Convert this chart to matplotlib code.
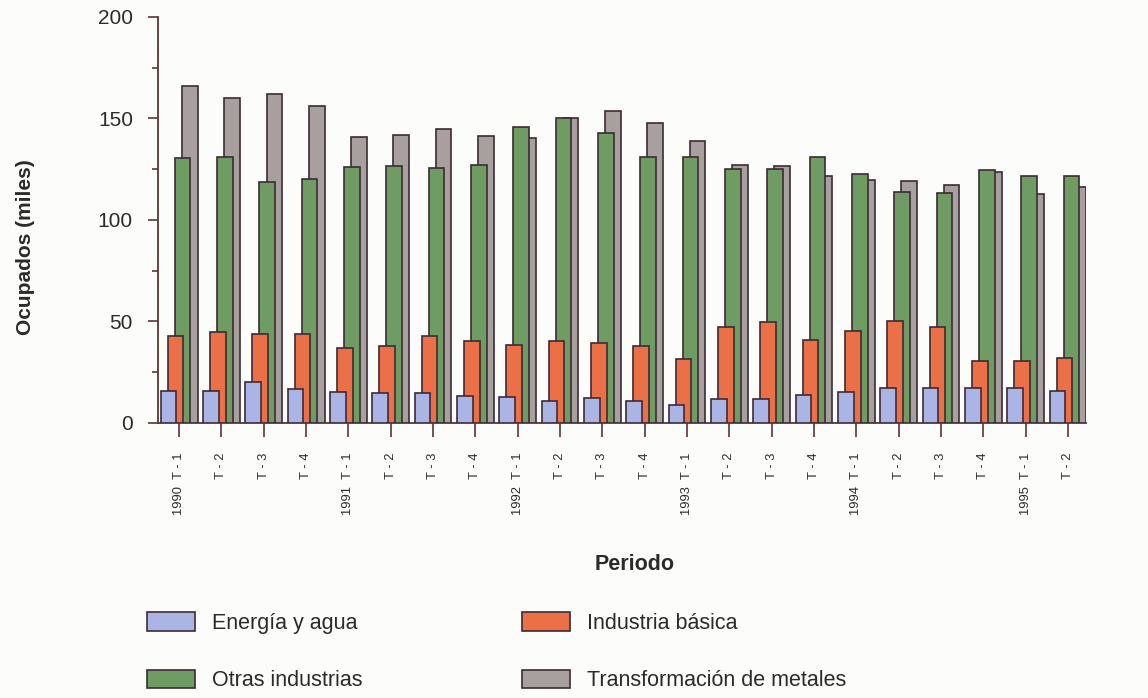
import matplotlib.pyplot as plt
import numpy as np

plt.rcParams['font.family'] = ['Liberation Sans', 'DejaVu Sans']

# Periodos (trimestres 1990 T-1 .. 1995 T-2)
periodos = ["1990  T - 1", "T - 2", "T - 3", "T - 4",
            "1991  T - 1", "T - 2", "T - 3", "T - 4",
            "1992  T - 1", "T - 2", "T - 3", "T - 4",
            "1993  T - 1", "T - 2", "T - 3", "T - 4",
            "1994  T - 1", "T - 2", "T - 3", "T - 4",
            "1995  T - 1", "T - 2"]

# Ocupados (miles)
energia = [15.6, 15.6, 20.0, 16.8, 15.1, 15.0, 14.8, 13.2,
           12.7, 11.0, 12.3, 10.9, 9.0, 12.0, 11.8, 13.8,
           15.1, 17.3, 17.3, 17.1, 17.1, 16.0]
basica = [42.8, 45.0, 44.0, 44.0, 37.0, 37.7, 42.8, 40.3,
          38.5, 40.5, 39.6, 38.0, 31.7, 47.5, 49.7, 41.0,
          45.5, 50.0, 47.4, 30.6, 30.6, 31.9]
otras = [130.3, 131.0, 118.8, 120.4, 126.0, 126.6, 125.8, 127.0,
         146.0, 150.0, 143.0, 131.0, 131.0, 125.3, 125.2, 131.0,
         122.5, 114.0, 113.3, 124.5, 121.9, 121.9]
metales = [166.0, 160.0, 162.0, 156.0, 141.0, 141.8, 144.7, 141.4,
           140.5, 150.0, 153.6, 148.0, 139.0, 127.0, 126.8, 121.5,
           119.6, 119.4, 117.0, 123.7, 113.0, 116.0]

series = [("Energía y agua", energia, "#aab5e6"),
          ("Otras industrias", otras, "#6e9c62"),
          ("Industria básica", basica, "#eb6f47"),
          ("Transformación de metales", metales, "#a89f9f")]
# desplazamiento de cada barra dentro del grupo (azul delante, gris detras)
offsets = {"Energía y agua": -0.25, "Industria básica": -0.083,
           "Otras industrias": 0.083, "Transformación de metales": 0.25}
zorders = {"Energía y agua": 6, "Industria básica": 5,
           "Otras industrias": 4, "Transformación de metales": 3}

edge = "#3d2b35"
axcol = "#5a3535"
txtcol = "#2b2b2b"

fig = plt.figure(figsize=(11.48, 6.98), dpi=100, facecolor="#fcfcfa")
ax = fig.add_axes([0.1376, 0.394, 0.8085, 0.5817])
ax.set_facecolor("none")

x = np.arange(len(periodos))
handles = []
for name, vals, col in series:
    b = ax.bar(x + offsets[name], vals, width=0.37, color=col,
               edgecolor=edge, linewidth=1.2, zorder=zorders[name], label=name)
    handles.append(b)

ax.set_xlim(-0.5, 21.43)
ax.set_ylim(0, 200)
ax.set_yticks([0, 50, 100, 150, 200])
ax.set_yticks([25, 75, 125, 175], minor=True)
ax.set_xticks(x)
ax.set_xticklabels(periodos, rotation=90, fontsize=9.3, color=txtcol)

for s in ["top", "right"]:
    ax.spines[s].set_visible(False)
for s in ["left", "bottom"]:
    ax.spines[s].set_color(axcol)
    ax.spines[s].set_linewidth(1.3)

ax.tick_params(axis="x", length=10, width=1.2, color=axcol, pad=11)
ax.tick_params(axis="y", which="major", length=7, width=1.2, color=axcol,
               pad=11, labelsize=15, labelcolor=txtcol)
ax.tick_params(axis="y", which="minor", length=4, width=1.2, color=axcol)

fig.text(26 / 1148, 1 - 247 / 698, "Ocupados (miles)", rotation=90,
         ha="center", va="center", fontsize=15, fontweight="bold", color=txtcol)
fig.text(635 / 1148, 1 - 565 / 698, "Periodo", ha="center", va="center",
         fontsize=15.5, fontweight="bold", color=txtcol)

fig.legend(handles=handles, labels=[h.get_label() for h in handles],
           loc="upper left", bbox_to_anchor=(0.1185, 0.138), ncol=2,
           frameon=False, fontsize=15.5, handlelength=2.23, handleheight=0.95,
           handletextpad=0.8, labelspacing=1.65, columnspacing=7.4,
           borderpad=0, labelcolor=txtcol)

fig.savefig("out.png", dpi=100, facecolor=fig.get_facecolor())
